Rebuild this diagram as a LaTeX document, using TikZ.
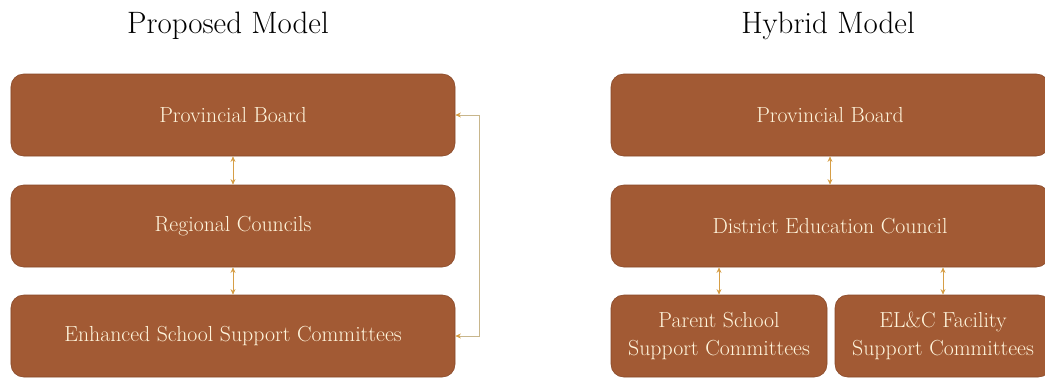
\documentclass[tikz,border=0pt]{standalone}
\usepackage{fontspec}
\usepackage{tikz}
\usetikzlibrary{arrows.meta}

\definecolor{boxbrown}{RGB}{162,90,52}
\definecolor{boxedge}{RGB}{136,72,40}
\definecolor{linkgold}{RGB}{214,158,70}
\definecolor{linktan}{RGB}{200,182,140}
\definecolor{textcream}{RGB}{255,245,220}

\begin{document}
\begin{tikzpicture}
% Box and link styles
\tikzset{
    unit/.style={draw=boxedge, fill=boxbrown, rounded corners=9pt, text=textcream,
        font=\fontsize{15.5}{20}\selectfont, align=center, minimum height=2.05cm, inner sep=0pt},
    link/.style={draw=linkgold, line width=0.7pt, {Stealth[length=4pt,width=3.5pt]}-{Stealth[length=4pt,width=3.5pt]}},
    side/.style={draw=linktan, line width=0.6pt,
        {Stealth[length=4pt,width=3.5pt,color=linkgold]}-{Stealth[length=4pt,width=3.5pt,color=linkgold]}},
    title/.style={font=\fontsize{22}{26}\selectfont, anchor=base}
}
\useasboundingbox (0,0) rectangle (26.125,9.425);
% Proposed model
\node[title] (tp) at (5.7,8.6){Proposed Model};
\node[unit, minimum width=11.1cm] (pbl) at (5.825,6.55){Provincial Board};
\node[unit, minimum width=11.1cm] (rcl) at (5.825,3.775){Regional Councils};
\node[unit, minimum width=11.1cm] (escl) at (5.825,1.025){Enhanced School Support Committees};
\draw[link] (pbl) -- (rcl);
\draw[link] (rcl) -- (escl);
\draw[side] (pbl.east) -- ++(0.6,0) |- (escl.east);
% Hybrid model
\node[title] (th) at (20.7,8.6){Hybrid Model};
\node[unit, minimum width=10.95cm] (pbr) at (20.75,6.55){Provincial Board};
\node[unit, minimum width=10.95cm] (dec) at (20.75,3.775){District Education Council};
\node[unit, minimum width=5.4cm] (psc) at (17.975,1.025){Parent School\\Support Committees};
\node[unit, minimum width=5.4cm] (efc) at (23.575,1.025){EL\&C Facility\\Support Committees};
\draw[link] (pbr) -- (dec);
\draw[link] (psc.north) -- (psc.north |- dec.south);
\draw[link] (efc.north) -- (efc.north |- dec.south);
\end{tikzpicture}
\end{document}
